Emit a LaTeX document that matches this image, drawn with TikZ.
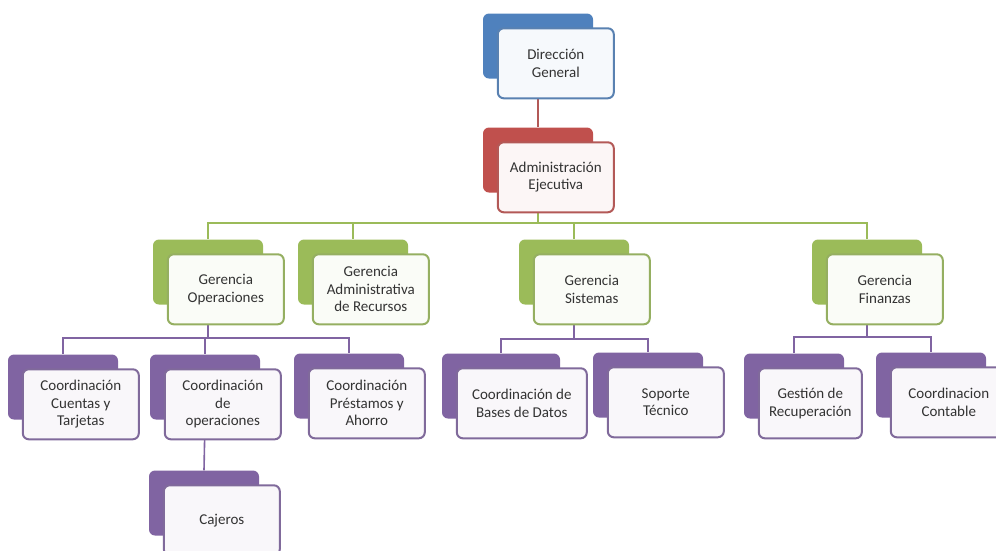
\documentclass[tikz,border=0pt]{standalone}
\usepackage{fontspec}
\setmainfont{Carlito}
\usetikzlibrary{positioning,backgrounds}
\definecolor{azul}{HTML}{4F81BD}
\definecolor{rojo}{HTML}{C0504D}
\definecolor{verde}{HTML}{9BBB59}
\definecolor{morado}{HTML}{8064A2}
\begin{document}
\begin{tikzpicture}[x=1pt,y=-1pt,line join=round,line cap=round,
	font=\fontsize{15}{17.5}\selectfont,
	atras/.style={fill=#1,rounded corners=6pt,minimum width=110pt,minimum height=65pt,inner sep=0pt},
	frente/.style={draw=#1!80!gray,fill=#1!5,line width=2pt,rounded corners=6pt,anchor=north west,
		minimum width=116pt,minimum height=70pt,align=center,text=black!80,inner sep=1pt},
	lazo/.style={draw=#1,line width=1.6pt}]
	\clip (0,0) rectangle (996,550);
	%%% caja: nombre, x, y, color, texto
	\def\caja#1#2#3#4#5{%
		\node[atras=#4] (#1-b) at (#2,#3) {};
		\node[frente=#4] (#1) at ([shift={(14,14)}]#1-b.north west) {#5};}
	%%% Direccion
	\caja{dg}{538}{46}{azul}{Dirección\\General}
	\caja{ae}{538}{160}{rojo}{Administración\\Ejecutiva}
	%%% Gerencias
	\caja{go}{208}{272}{verde}{Gerencia\\Operaciones}
	\caja{ga}{353}{272}{verde}{Gerencia\\Administrativa\\de Recursos}
	\caja{gs}{574}{272}{verde}{Gerencia\\Sistemas}
	\caja{gf}{867}{272}{verde}{Gerencia\\Finanzas}
	%%% Coordinaciones
	\caja{cc}{63}{387}{morado}{Coordinación\\Cuentas y\\Tarjetas}
	\caja{co}{205}{387}{morado}{Coordinación\\de\\operaciones}
	\caja{cp}{349}{386}{morado}{Coordinación\\Préstamos y\\Ahorro}
	\node[atras=morado,minimum width=118pt] (cb-b) at (501,386) {};
	\node[frente=morado,minimum width=130pt] (cb) at ([shift={(14,14)}]cb-b.north west) {Coordinación de\\Bases de Datos};
	\caja{st}{648}{385}{morado}{Soporte\\Técnico}
	\node[atras=morado,minimum width=100pt] (gr-b) at (794,386) {};
	\node[frente=morado,minimum width=103pt] (gr) at ([shift={(14,14)}]gr-b.north west) {Gestión de\\Recuperación};
	\caja{cct}{931}{385}{morado}{Coordinacion\\Contable}
	\caja{ca}{204}{503}{morado}{Cajeros}
	%%% lineas
	\begin{scope}[on background layer]
		\draw[lazo=rojo!80!gray] (dg-b.south)--(ae-b.north);
		\foreach \h in {go,ga,gs,gf}
		\draw[lazo=verde] (ae-b.south)--++(0,30)-|(\h-b.north);
		\foreach \h in {cc,co,cp}
		\draw[lazo=morado] (go-b.south)--++(0,33)-|(\h-b.north);
		\foreach \h in {cb,st}
		\draw[lazo=morado] (gs-b.south)--++(0,34)-|(\h-b.north);
		\foreach \h in {gr,cct}
		\draw[lazo=morado] (gf-b.south)--++(0,32)-|(\h-b.north);
		\draw[lazo=morado] (co-b.south)--(ca-b.north);
	\end{scope}
\end{tikzpicture}
\end{document}
